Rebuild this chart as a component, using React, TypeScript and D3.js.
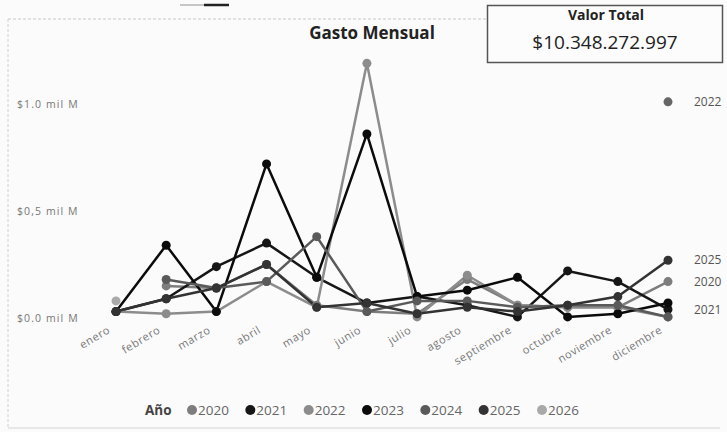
import { useEffect, useRef } from 'react';
import * as d3 from 'd3';

const months = ['enero', 'febrero', 'marzo', 'abril', 'mayo', 'junio', 'julio', 'agosto', 'septiembre', 'octubre', 'noviembre', 'diciembre'];
const years = ['2020', '2021', '2022', '2023', '2024', '2025', '2026'];
const yearColors = ['#7d7d7d', '#161616', '#8c8c8c', '#0b0b0b', '#5a5a5a', '#333333', '#a9a9a9'];

// values in "mil M" (billions)
const v2020 = [null, 0.15, 0.14, 0.25, 0.06, 0.03, 0.02, 0.18, 0.06, 0.05, 0.05, 0.17];
const v2021 = [0.03, 0.09, 0.24, 0.35, 0.19, 0.07, 0.10, 0.06, 0.005, 0.22, 0.17, 0.04];
const v2022 = [0.03, 0.02, 0.03, 0.17, 0.05, 1.19, 0.005, 0.20, 0.06, 0.05, 0.05, 0.005];
const v2023 = [0.03, 0.34, 0.03, 0.72, 0.19, 0.86, 0.10, 0.13, 0.19, 0.005, 0.02, 0.07];
const v2024 = [null, 0.18, 0.14, 0.17, 0.38, 0.03, 0.08, 0.08, 0.05, 0.06, 0.06, 0.005];
const v2025 = [0.03, 0.09, 0.14, 0.25, 0.05, 0.07, 0.02, 0.05, 0.03, 0.06, 0.10, 0.27];
const v2026 = [0.08, null, null, null, null, null, null, null, null, null, null, null];
const seriesValues = [v2020, v2021, v2022, v2023, v2024, v2025, v2026];

// labels drawn at the right end of the plot
const endLabelYears = ['2022', '2025', '2020', '2021'];
const endLabelValues = [1.01, 0.27, 0.17, 0.04];

const yTicks = [0, 0.5, 1];
const yTickLabels = ['$0.0 mil M', '$0,5 mil M', '$1.0 mil M'];

const title = 'Gasto Mensual';
const cardTitle = 'Valor Total';
const cardValue = '$10.348.272.997';
const legendTitle = 'Año';

export default function App() {
  const svgRef = useRef<SVGSVGElement>(null);

  useEffect(() => {
    if (!svgRef.current) return;
    const width = 727;
    const height = 432;
    const font = '"Open Sans", "DejaVu Sans", sans-serif';

    const svg = d3.select(svgRef.current).attr('viewBox', `0 0 ${width} ${height}`);
    svg.selectAll('*').remove();

    svg.append('rect').attr('width', width).attr('height', height).attr('fill', '#fbfbfb');

    // visual frame
    svg.append('line').attr('x1', 8).attr('x2', 487).attr('y1', 19).attr('y2', 19)
      .attr('stroke', '#c8c8c8').attr('stroke-dasharray', '3,2');
    svg.append('line').attr('x1', 8).attr('x2', 8).attr('y1', 19).attr('y2', 428)
      .attr('stroke', '#d0d0d0').attr('stroke-dasharray', '3,2');
    svg.append('line').attr('x1', 8).attr('x2', 720).attr('y1', 428).attr('y2', 428)
      .attr('stroke', '#d4d4d4');

    // small focus marker at the top
    svg.append('line').attr('x1', 180).attr('x2', 204).attr('y1', 5).attr('y2', 5)
      .attr('stroke', '#b5b5b5').attr('stroke-width', 1.5);
    svg.append('line').attr('x1', 204).attr('x2', 229).attr('y1', 5).attr('y2', 5)
      .attr('stroke', '#222').attr('stroke-width', 2.5);

    const x = d3.scalePoint<string>().domain(months).range([116, 668]);
    const y = d3.scaleLinear().domain([0, 1]).range([318, 104]);
    const color = d3.scaleOrdinal<string>().domain(years).range(yearColors);

    // y axis labels
    svg.append('g').selectAll('text').data(yTicks).join('text')
      .attr('x', 17).attr('y', d => y(d)).attr('dy', '0.35em')
      .attr('font-family', font).attr('font-size', 10.5).attr('letter-spacing', 1.1).attr('fill', '#777')
      .text((d, i) => yTickLabels[i]);

    // x axis labels
    svg.append('g').selectAll('text').data(months).join('text')
      .attr('transform', d => `translate(${(x(d) ?? 0) - 5},${332}) rotate(-31)`)
      .attr('text-anchor', 'end')
      .attr('font-family', font).attr('font-size', 11).attr('letter-spacing', 0.6).attr('fill', '#777')
      .text(d => d);

    // title
    svg.append('text').attr('x', 372).attr('y', 39).attr('text-anchor', 'middle')
      .attr('font-family', font).attr('font-weight', 700).attr('font-size', 17).attr('fill', '#222')
      .text(title);

    const line = d3.line<number | null>()
      .defined(d => d !== null)
      .x((_, i) => x(months[i]) ?? 0)
      .y(d => y(d as number));

    const plot = svg.append('g');
    years.forEach((yr, si) => {
      const vals = seriesValues[si];
      plot.append('path').datum(vals)
        .attr('d', line)
        .attr('fill', 'none')
        .attr('stroke', color(yr))
        .attr('stroke-width', 2.5)
        .attr('stroke-linejoin', 'round');
    });
    years.forEach((yr, si) => {
      const vals = seriesValues[si];
      plot.append('g').selectAll('circle')
        .data(vals.map((v, i) => ({ v, m: months[i] })).filter(d => d.v !== null))
        .join('circle')
        .attr('cx', d => x(d.m) ?? 0)
        .attr('cy', d => y(d.v as number))
        .attr('r', 4.5)
        .attr('fill', color(yr));
    });

    // end labels
    const endG = svg.append('g');
    endLabelYears.forEach((yr, i) => {
      if (yr === '2022') {
        endG.append('circle').attr('cx', x('diciembre') ?? 0).attr('cy', y(endLabelValues[i]))
          .attr('r', 4.5).attr('fill', '#666');
      }
      endG.append('text').attr('x', 694).attr('y', y(endLabelValues[i])).attr('dy', '0.35em')
        .attr('font-family', font).attr('font-size', 12).attr('fill', '#555')
        .text(yr);
    });

    // card
    svg.append('rect').attr('x', 487.5).attr('y', 5.5).attr('width', 235).attr('height', 57)
      .attr('fill', '#fcfcfc').attr('stroke', '#555').attr('stroke-width', 1.5);
    svg.append('text').attr('x', 606).attr('y', 20).attr('text-anchor', 'middle')
      .attr('font-family', font).attr('font-weight', 700).attr('font-size', 14).attr('fill', '#222')
      .text(cardTitle);
    svg.append('text').attr('x', 605).attr('y', 49).attr('text-anchor', 'middle')
      .attr('font-family', font).attr('font-size', 19).attr('fill', '#222')
      .text(cardValue);

    // legend
    const legend = svg.append('g');
    legend.append('text').attr('x', 145).attr('y', 410).attr('dy', '0.35em')
      .attr('font-family', font).attr('font-weight', 700).attr('font-size', 13.5).attr('fill', '#444')
      .text(legendTitle);
    const lx = d3.scalePoint<string>().domain(years).range([192, 542]);
    const items = legend.selectAll('g.item').data(years).join('g')
      .attr('class', 'item')
      .attr('transform', d => `translate(${lx(d)},410)`);
    items.append('circle').attr('r', 5).attr('fill', d => color(d));
    items.append('text').attr('x', 6).attr('dy', '0.35em')
      .attr('font-family', font).attr('font-size', 13.5).attr('fill', '#666')
      .text(d => d);
  }, []);

  return (
    <div style={{ position: 'fixed', left: 0, top: 0, width: 727, height: 432 }}>
      <svg ref={svgRef} width={727} height={432} style={{ display: 'block' }} />
    </div>
  );
}
